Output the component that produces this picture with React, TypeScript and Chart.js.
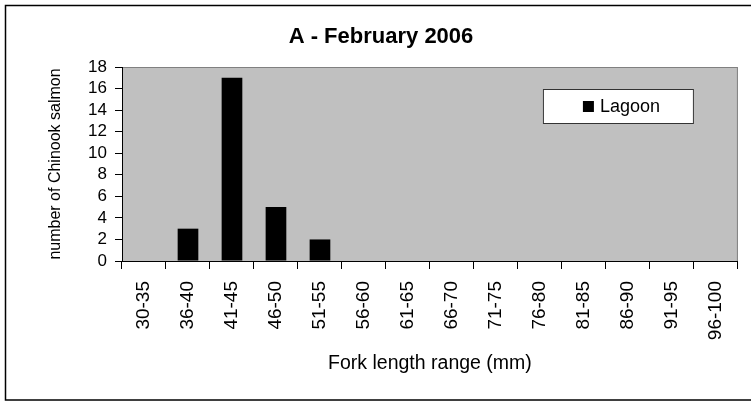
import { useEffect, useRef } from "react";
import { Chart, registerables } from "chart.js";

Chart.register(...registerables);

const categories = [
  "30-35", "36-40", "41-45", "46-50", "51-55", "56-60", "61-65",
  "66-70", "71-75", "76-80", "81-85", "86-90", "91-95", "96-100",
];
const lagoonCounts = [0, 3, 17, 5, 2, 0, 0, 0, 0, 0, 0, 0, 0, 0];
const yTickValues = [0, 2, 4, 6, 8, 10, 12, 14, 16, 18];
const seriesLabel = "Lagoon";
const chartTitle = "A - February 2006";
const xAxisTitle = "Fork length range (mm)";
const yAxisTitle = "number of Chinook salmon";

const FONT = '"Liberation Sans", Arial, sans-serif';

const framePlugin = {
  id: "frame",
  beforeDraw(chart: any) {
    const { ctx, chartArea, width, height } = chart;
    ctx.save();
    ctx.fillStyle = "#ffffff";
    ctx.fillRect(0, 0, width, height);
    ctx.strokeStyle = "#000000";
    ctx.lineWidth = 1.5;
    ctx.strokeRect(5.5, 5.5, 770, 394.5);
    ctx.fillStyle = "#c0c0c0";
    ctx.fillRect(chartArea.left, chartArea.top, chartArea.right - chartArea.left, chartArea.bottom - chartArea.top);
    ctx.strokeStyle = "#808080";
    ctx.lineWidth = 1;
    ctx.strokeRect(chartArea.left + 0.5, chartArea.top + 0.5, chartArea.right - chartArea.left - 1, chartArea.bottom - chartArea.top);
    ctx.fillStyle = "#000000";
    ctx.font = `bold 22px ${FONT}`;
    ctx.textAlign = "center";
    ctx.textBaseline = "middle";
    ctx.fillText(chartTitle, 381, 37);
    ctx.restore();
  },
  afterDraw(chart: any) {
    const { ctx, chartArea } = chart;
    const ds = chart.data.datasets[0];
    const x = chartArea.right - 195;
    const y = chartArea.top + 22;
    const w = 151;
    const h = 35;
    ctx.save();
    ctx.fillStyle = "#ffffff";
    ctx.fillRect(x, y, w, h);
    ctx.strokeStyle = "#333333";
    ctx.lineWidth = 1;
    ctx.strokeRect(x + 0.5, y + 0.5, w - 1, h - 1);
    ctx.fillStyle = ds.backgroundColor;
    ctx.fillRect(x + 40, y + 12, 11, 11);
    ctx.fillStyle = "#000000";
    ctx.font = `18px ${FONT}`;
    ctx.textAlign = "left";
    ctx.textBaseline = "middle";
    ctx.fillText(ds.label, x + 57, y + 18);
    ctx.restore();
  },
};

export default function App() {
  const canvasRef = useRef<HTMLCanvasElement>(null);

  useEffect(() => {
    if (!canvasRef.current) return;
    const chart = new Chart(canvasRef.current, {
      type: "bar",
      data: {
        labels: categories,
        datasets: [
          {
            label: seriesLabel,
            data: lagoonCounts,
            backgroundColor: "#000000",
            borderWidth: 0,
            barPercentage: 0.47,
            categoryPercentage: 1,
          },
        ],
      },
      options: {
        responsive: false,
        animation: false,
        layout: { padding: { left: 0, top: 67, right: 8, bottom: 0 } },
        plugins: {
          legend: { display: false },
          title: { display: false },
          tooltip: { enabled: false },
        },
        scales: {
          x: {
            afterFit: (s: any) => {
              s.height = 142;
            },
            grid: {
              display: true,
              drawOnChartArea: false,
              drawTicks: true,
              tickLength: 8,
              color: "#000000",
              offset: true,
            },
            border: { display: true, color: "#000000", width: 1 },
            ticks: {
              color: "#000000",
              font: { family: FONT, size: 19 },
              minRotation: 90,
              maxRotation: 90,
              padding: 12,
              autoSkip: false,
            },
            title: {
              display: true,
              text: xAxisTitle,
              color: "#000000",
              font: { family: FONT, size: 19.5 },
              padding: { top: 0, bottom: 28 },
            },
          },
          y: {
            min: 0,
            max: 18,
            afterBuildTicks: (s: any) => {
              s.ticks = yTickValues.map((v) => ({ value: v }));
            },
            afterFit: (s: any) => {
              s.width = 122;
            },
            grid: {
              display: true,
              drawOnChartArea: false,
              drawTicks: true,
              tickLength: 7,
              color: "#000000",
            },
            border: { display: true, color: "#000000", width: 1 },
            ticks: {
              color: "#000000",
              font: { family: FONT, size: 17 },
              padding: 8,
              autoSkip: false,
            },
            title: {
              display: true,
              text: yAxisTitle,
              color: "#000000",
              font: { family: FONT, size: 16 },
              padding: { top: 46, bottom: 0 },
            },
          },
        },
      },
      plugins: [framePlugin],
    });
    return () => chart.destroy();
  }, []);

  return (
    <div style={{ position: "fixed", left: 0, top: 0, width: 751, height: 403 }}>
      <canvas ref={canvasRef} width={751} height={403} />
    </div>
  );
}
